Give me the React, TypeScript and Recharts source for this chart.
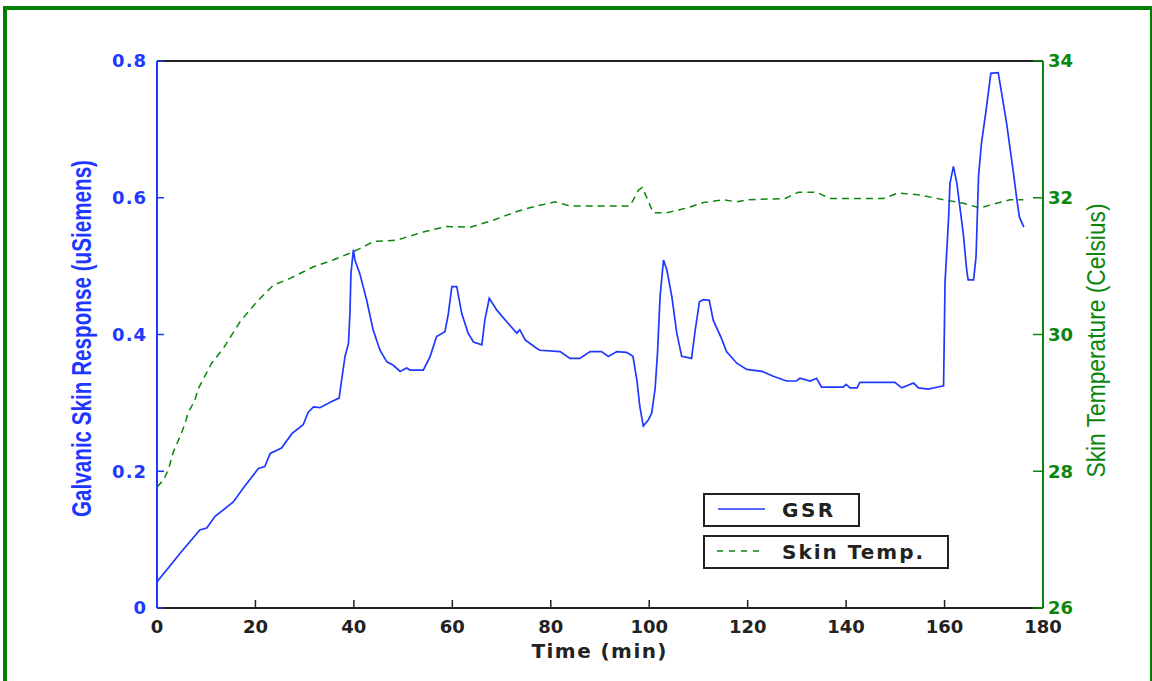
import React from 'react';
import { ComposedChart, Line, XAxis, YAxis, Legend } from 'recharts';

const gsrTime = [0, 0.3, 2, 4.7, 8.7, 10.1, 11.8, 15.5, 17.5, 20.6, 21.9, 23, 25.3, 27.4, 29.7, 30.7, 31.8, 33.1, 35.5, 37, 37.5, 38.2, 38.9, 39.2, 39.4, 39.9, 40.2, 41.2, 42.6, 43.9, 45.3, 46.7, 48, 49.4, 50.7, 51.4, 54.1, 55.5, 56.8, 58.5, 59.2, 59.9, 60.9, 61.9, 63.2, 64.3, 66, 66.6, 67.5, 69, 71, 73.1, 73.7, 74.8, 77.1, 77.8, 81.9, 83.9, 85.9, 88, 90.3, 91.7, 93.4, 95.4, 96.7, 97.5, 98.1, 98.8, 99.8, 100.5, 101.2, 101.7, 102.2, 102.9, 103.6, 104.6, 105.6, 106.6, 108.6, 109.3, 110.2, 111, 112.2, 113, 114.7, 115.7, 117.8, 119.8, 122.9, 125.2, 127.9, 129.9, 130.6, 132.7, 134, 135, 139.4, 140, 140.8, 142.2, 142.8, 149.9, 151.3, 153.7, 154.7, 156.7, 159.1, 159.8, 160.1, 160.8, 161.1, 161.8, 162.5, 163.1, 163.8, 164.5, 164.8, 165.9, 166.4, 166.9, 167.5, 168.4, 169.4, 170.9, 171.6, 172.6, 174, 174.7, 175.2, 176.1];
const gsrValue = [0.037, 0.041, 0.056, 0.080, 0.114, 0.117, 0.134, 0.155, 0.175, 0.204, 0.207, 0.226, 0.234, 0.255, 0.268, 0.286, 0.294, 0.293, 0.302, 0.307, 0.333, 0.368, 0.387, 0.431, 0.489, 0.524, 0.509, 0.489, 0.450, 0.407, 0.377, 0.360, 0.355, 0.346, 0.351, 0.348, 0.348, 0.368, 0.397, 0.404, 0.431, 0.470, 0.470, 0.431, 0.402, 0.389, 0.385, 0.421, 0.453, 0.436, 0.419, 0.402, 0.407, 0.392, 0.380, 0.377, 0.375, 0.365, 0.365, 0.375, 0.375, 0.368, 0.375, 0.374, 0.368, 0.333, 0.294, 0.266, 0.275, 0.285, 0.321, 0.375, 0.455, 0.509, 0.494, 0.455, 0.402, 0.368, 0.365, 0.404, 0.448, 0.451, 0.450, 0.421, 0.394, 0.375, 0.358, 0.349, 0.346, 0.339, 0.332, 0.332, 0.336, 0.332, 0.336, 0.323, 0.323, 0.327, 0.322, 0.322, 0.330, 0.330, 0.322, 0.329, 0.322, 0.320, 0.324, 0.325, 0.477, 0.567, 0.621, 0.646, 0.621, 0.587, 0.548, 0.494, 0.480, 0.480, 0.514, 0.631, 0.680, 0.726, 0.782, 0.783, 0.753, 0.709, 0.636, 0.597, 0.572, 0.557];

const tempTime = [0, 1.3, 2.3, 3.3, 4.7, 5.7, 6.3, 7.7, 8.4, 11.1, 13.5, 16.9, 20.3, 23.6, 27, 31.8, 35.8, 39.9, 44, 48.7, 54.1, 58.8, 63.6, 68.3, 73.1, 77.1, 78.5, 80.9, 83.9, 96.1, 97.8, 98.6, 99.4, 100.8, 103.5, 107.6, 111, 115, 117.8, 119.8, 127.6, 130.3, 134, 136.7, 147.6, 150.6, 155, 159.8, 163.8, 167.2, 170.6, 173.3, 176];
const tempValue = [27.77, 27.87, 28.02, 28.28, 28.51, 28.70, 28.85, 29.04, 29.21, 29.58, 29.80, 30.19, 30.48, 30.72, 30.82, 30.99, 31.09, 31.21, 31.36, 31.38, 31.50, 31.58, 31.57, 31.67, 31.80, 31.88, 31.90, 31.94, 31.88, 31.88, 32.11, 32.15, 32.02, 31.78, 31.78, 31.85, 31.93, 31.97, 31.94, 31.97, 31.99, 32.08, 32.08, 31.99, 31.99, 32.07, 32.04, 31.97, 31.92, 31.85, 31.92, 31.97, 31.97];

const timeTicks = [0, 20, 40, 60, 80, 100, 120, 140, 160, 180];
const gsrTicks = [0, 0.2, 0.4, 0.6, 0.8];
const tempTicks = [26, 28, 30, 32, 34];

const seriesNames = ['GSR', 'Skin Temp.'];
const xTitle = 'Time (min)';
const leftTitle = 'Galvanic Skin Response (uSiemens)';
const rightTitle = 'Skin Temperature (Celsius)';

const gsrData = gsrTime.map((t, i) => ({ t, v: gsrValue[i] }));
const tempData = tempTime.map((t, i) => ({ t, v: tempValue[i] }));

const BLUE = '#1f38ff';
const GREEN = '#0c850c';
const FRAME = '#008000';
const BLACK = '#222222';

const tickFont = { fontFamily: 'DejaVu Sans', fontWeight: 700, fontSize: 18 };
const titleFamily = "'Liberation Sans', Arial, sans-serif";

const LeftTitle = (props: any) => {
  const vb = props.viewBox || { x: 0, y: 61, width: 157, height: 547 };
  const cx = vb.x + 91;
  const cy = vb.y + vb.height / 2 + 4;
  return (
    <text x={cx} y={cy} transform={`rotate(-90 ${cx} ${cy})`} textAnchor="middle" fill={BLUE}
      fontFamily={titleFamily} fontWeight={700} fontSize={27} textLength={357} lengthAdjust="spacingAndGlyphs">
      {leftTitle}
    </text>
  );
};

const RightTitle = (props: any) => {
  const vb = props.viewBox || { x: 1043, y: 61, width: 109, height: 547 };
  const cx = vb.x + 62;
  const cy = vb.y + vb.height / 2 + 6;
  return (
    <text x={cx} y={cy} transform={`rotate(-90 ${cx} ${cy})`} textAnchor="middle" fill={GREEN}
      fontFamily={titleFamily} fontWeight={400} fontSize={26} textLength={274} lengthAdjust="spacingAndGlyphs">
      {rightTitle}
    </text>
  );
};

const BottomTitle = (props: any) => {
  const vb = props.viewBox || { x: 157, y: 608, width: 886, height: 73 };
  const cx = vb.x + vb.width / 2 - 1;
  const cy = vb.y + 50;
  return (
    <text x={cx} y={cy} textAnchor="middle" fill={BLACK}
      fontFamily="DejaVu Sans" fontWeight={700} fontSize={20} textLength={135} lengthAdjust="spacing">
      {xTitle}
    </text>
  );
};

const boxWidths = [157, 246];

const renderLegend = (props: any) => {
  const raw = props && props.payload && props.payload.length ? props.payload : [];
  const payload = raw.filter((p: any) => seriesNames.indexOf(p.value) >= 0);
  const items = payload.length ? payload : seriesNames.map((n) => ({ value: n }));
  items.sort((a: any, b: any) => seriesNames.indexOf(a.value) - seriesNames.indexOf(b.value));
  return (
    <div style={{ position: 'relative', width: 250, height: 80 }}>
      {items.map((p: any, i: number) => {
        const dashed = i === 1;
        const w = boxWidths[i] || 200;
        return (
          <div key={i} style={{ position: 'absolute', left: 0, top: i * 42, width: w, height: 34, boxSizing: 'border-box', border: `2px solid ${BLACK}`, background: '#fff' }}>
            <svg width={w - 4} height={30} style={{ display: 'block' }}>
              <line x1={dashed ? 12 : 13} x2={dashed ? 58 : 60} y1={14} y2={14} stroke={dashed ? GREEN : BLUE} strokeWidth={1.6} strokeDasharray={dashed ? '6 6' : undefined} />
              <text x={77} y={22} fill={BLACK} fontFamily="DejaVu Sans" fontWeight={700} fontSize={20} letterSpacing={dashed ? 2 : 2.5}>{p.value}</text>
            </svg>
          </div>
        );
      })}
    </div>
  );
};

export default function App() {
  return (
    <div style={{ position: 'absolute', left: 0, top: 0, width: 1152, height: 681, overflow: 'hidden', background: '#fff' }}>
      <div style={{ position: 'absolute', left: 3, top: 6, width: 1149, height: 720, boxSizing: 'border-box', borderLeft: `4px solid ${FRAME}`, borderTop: `4px solid ${FRAME}`, borderRight: `2px solid ${FRAME}` }} />
      <div style={{ position: 'absolute', left: 0, top: 0 }}>
        <ComposedChart width={1152} height={681} margin={{ top: 60, right: 0, bottom: 0, left: 0 }}>
          <XAxis xAxisId="bottom" dataKey="t" type="number" domain={[0, 180]} ticks={timeTicks} interval={0}
            height={73} orientation="bottom" tickSize={-8} tickMargin={20}
            axisLine={{ stroke: BLACK, strokeWidth: 2 }} tickLine={{ stroke: BLACK, strokeWidth: 1.5 }}
            tick={{ ...tickFont, fill: BLACK }} label={(p: any) => <BottomTitle {...p} />} />
          <XAxis xAxisId="top" dataKey="t" type="number" domain={[0, 180]} ticks={timeTicks} interval={0}
            height={1} orientation="top" tickSize={-7} tick={false}
            axisLine={{ stroke: BLACK, strokeWidth: 2 }} tickLine={{ stroke: BLACK, strokeWidth: 1.5 }} />
          <YAxis yAxisId="left" type="number" domain={[0, 0.8]} ticks={gsrTicks} interval={0} width={157}
            orientation="left" tickSize={-7} tickMargin={17}
            tickFormatter={(v: number) => (v === 0 ? '0' : v.toFixed(1))}
            axisLine={{ stroke: BLUE, strokeWidth: 2 }} tickLine={{ stroke: BLUE, strokeWidth: 1.5 }}
            tick={{ ...tickFont, fill: BLUE, letterSpacing: 1 }} label={(p: any) => <LeftTitle {...p} />} />
          <YAxis yAxisId="right" type="number" domain={[26, 34]} ticks={tempTicks} interval={0} width={109}
            orientation="right" tickSize={-10} tickMargin={15}
            axisLine={{ stroke: GREEN, strokeWidth: 2 }} tickLine={{ stroke: GREEN, strokeWidth: 1.5 }}
            tick={{ ...tickFont, fill: GREEN }} label={(p: any) => <RightTitle {...p} />} />
          <Line xAxisId="top" yAxisId="left" data={gsrData} dataKey="v" name="frame" legendType="none"
            stroke="none" strokeWidth={0} dot={false} activeDot={false} isAnimationActive={false} />
          <Line xAxisId="bottom" yAxisId="right" data={tempData} dataKey="v" name={seriesNames[1]} type="linear"
            stroke={GREEN} strokeWidth={1.5} strokeDasharray="7 5" dot={false} activeDot={false} isAnimationActive={false} />
          <Line xAxisId="bottom" yAxisId="left" data={gsrData} dataKey="v" name={seriesNames[0]} type="linear"
            stroke={BLUE} strokeWidth={1.7} dot={false} activeDot={false} isAnimationActive={false} />
          <Legend layout="horizontal" verticalAlign="middle" align="center"
            wrapperStyle={{ left: 703, top: 493, width: 250, height: 80 }} content={renderLegend} />
        </ComposedChart>
      </div>
    </div>
  );
}
